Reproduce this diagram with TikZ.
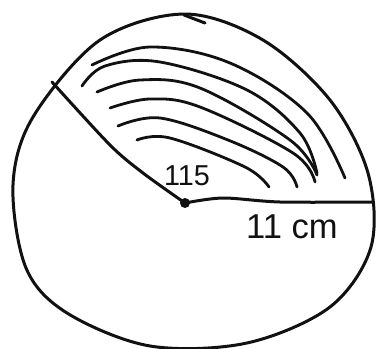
\documentclass[tikz,border=0pt]{standalone}
\usepackage{fontspec}
\setsansfont{Liberation Sans}
\usetikzlibrary{positioning, calc}
\definecolor{inkBlack}{HTML}{111111}

\begin{document}
\begin{tikzpicture}[x=0.5pt, y=-0.5pt, line width=1.5pt, line cap=round, line join=round,
    inkline/.style={draw=inkBlack},
    hatchline/.style={draw=inkBlack, line width=1.4pt}]
  \useasboundingbox (0,0) rectangle (376,349);
  % hand drawn rim
  \draw[inkline] plot[smooth cycle, tension=0.55] coordinates {
    (185,14) (263,40) (330,100) (368,173) (371,247) (330,307) (247,343)
    (150,346) (67,313) (26,268) (13,185) (33,117) (100,40)};
  \draw[inkline] (184,15) -- (205,23);
  % centre and radii
  \node[circle, fill=inkBlack, inner sep=0pt, minimum size=5pt] (o) at (185,203) {};
  \coordinate (rim) at (372,202);
  \coordinate (ul) at (52,82);
  \draw[inkline] plot[smooth, tension=0.5] coordinates {(185,203) (223,198) (280,202) (372,202)};
  \draw[inkline] plot[smooth, tension=0.5] coordinates {(185,203) (143,173) (110,145) (52,82)};
  % shading
  \draw[hatchline] plot[smooth, tension=0.6] coordinates {(92,65) (150,47) (230,63) (307,113) (345,178)};
  \draw[hatchline] plot[smooth, tension=0.6] coordinates {(82,86) (105,66) (160,62) (247,90) (300,133) (317,173)};
  \draw[hatchline] plot[smooth, tension=0.6] coordinates {(97,92) (140,80) (200,88) (290,140) (317,175)};
  \draw[hatchline] plot[smooth, tension=0.6] coordinates {(110,108) (150,99) (200,107) (293,153) (315,182)};
  \draw[hatchline] plot[smooth, tension=0.6] coordinates {(118,126) (160,118) (228,140) (283,167) (297,187)};
  \draw[hatchline] plot[smooth, tension=0.6] coordinates {(137,140) (170,138) (245,167) (269,187)};
  % labels
  \node[font=\sffamily\Large, text=inkBlack] (ang) at (187,176) {115};
  \node[font=\sffamily\LARGE, text=inkBlack] (len) at (292,227) {11 cm};
\end{tikzpicture}
\end{document}
